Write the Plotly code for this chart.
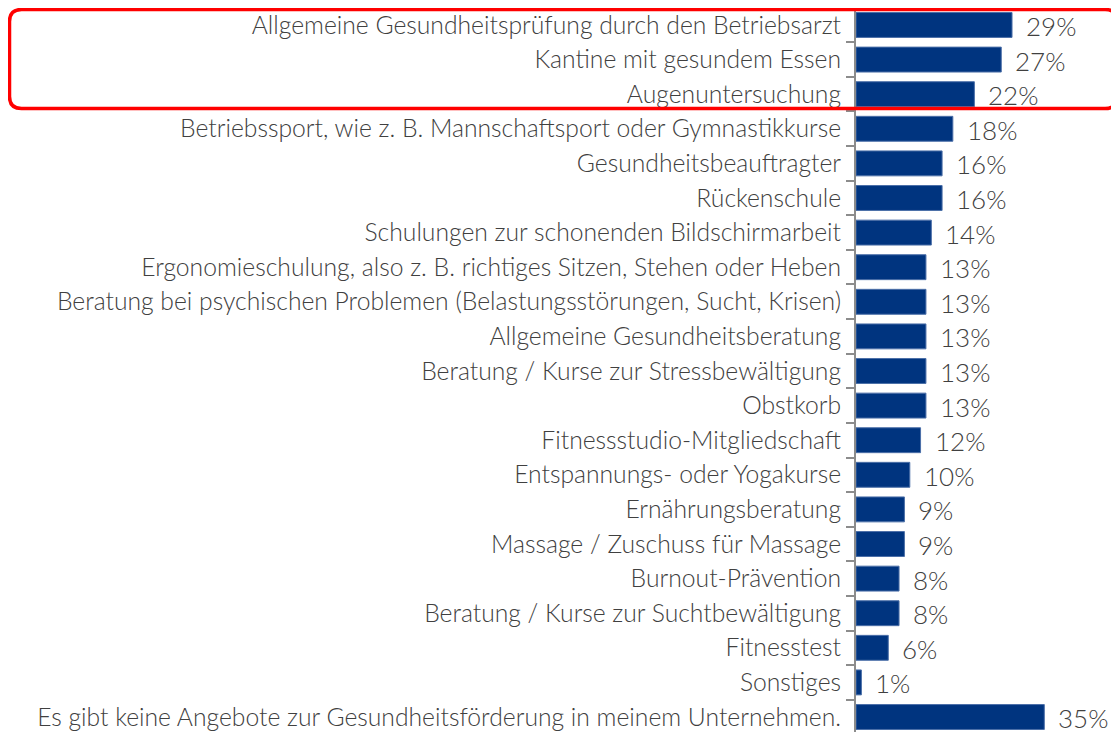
import plotly.graph_objects as go

categories = [
    "Allgemeine Gesundheitsprüfung durch den Betriebsarzt",
    "Kantine mit gesundem Essen",
    "Augenuntersuchung",
    "Betriebssport, wie z. B. Mannschaftsport oder Gymnastikkurse",
    "Gesundheitsbeauftragter",
    "Rückenschule",
    "Schulungen zur schonenden Bildschirmarbeit",
    "Ergonomieschulung, also z. B. richtiges Sitzen, Stehen oder Heben",
    "Beratung bei psychischen Problemen (Belastungsstörungen, Sucht, Krisen)",
    "Allgemeine Gesundheitsberatung",
    "Beratung / Kurse zur Stressbewältigung",
    "Obstkorb",
    "Fitnessstudio-Mitgliedschaft",
    "Entspannungs- oder Yogakurse",
    "Ernährungsberatung",
    "Massage / Zuschuss für Massage",
    "Burnout-Prävention",
    "Beratung / Kurse zur Suchtbewältigung",
    "Fitnesstest",
    "Sonstiges",
    "Es gibt keine Angebote zur Gesundheitsförderung in meinem Unternehmen.",
]
values = [29, 27, 22, 18, 16, 16, 14, 13, 13, 13, 13, 13, 12, 10, 9, 9, 8, 8, 6, 1, 35]
value_labels = [f"{v}%" for v in values]

OFF = 8             # page body margin
W, H = 1119 - OFF, 732 - OFF
AX_X = 856 - OFF    # pixel position of the y axis line (figure coords)
TOP, BOT = 0, H     # plot area top/bottom (figure coords)
PX_PER_UNIT = 5.38
FONT = "Lato"

cats_r = categories[::-1]
vals_r = values[::-1]
labs_r = value_labels[::-1]

fig = go.Figure()
fig.add_trace(go.Bar(
    y=cats_r, x=vals_r, orientation="h",
    marker=dict(color="#00347F", line=dict(color="#4B6FA8", width=1)),
    width=0.72, hoverinfo="skip", cliponaxis=False,
))

for c, v, t in zip(cats_r, vals_r, labs_r):
    fig.add_annotation(x=v, y=c, text=t, showarrow=False, xanchor="left",
                       xshift=13, yshift=-1, borderpad=0,
                       font=dict(family=FONT, size=26, color="#404040",
                                 weight=300))

row_h = 34.65
top_center = 25 - OFF
bot_center = 717 - OFF
n = len(categories)
y_top = (n - 1) + (top_center - TOP) / row_h
y_bot = 0 - (BOT - bot_center) / row_h

plot_w = W - AX_X
x_max = plot_w / PX_PER_UNIT

# red rounded highlight box (pixel -> paper)
def px(xp):
    return (xp - AX_X) / plot_w

def py(yp):
    return (BOT - yp) / (BOT - TOP)

x0, x1, y0, y1, r = 1.5, 1109, 1.5, 100.5, 12
path = (
    f"M {px(x0 + r)},{py(y0)} L {px(x1 - r)},{py(y0)} "
    f"Q {px(x1)},{py(y0)} {px(x1)},{py(y0 + r)} "
    f"L {px(x1)},{py(y1 - r)} Q {px(x1)},{py(y1)} {px(x1 - r)},{py(y1)} "
    f"L {px(x0 + r)},{py(y1)} Q {px(x0)},{py(y1)} {px(x0)},{py(y1 - r)} "
    f"L {px(x0)},{py(y0 + r)} Q {px(x0)},{py(y0)} {px(x0 + r)},{py(y0)} Z"
)
fig.add_shape(type="path", path=path, xref="paper", yref="paper",
              line=dict(color="#FF0000", width=3.5), layer="above")

fig.update_layout(
    width=W, height=H,
    margin=dict(l=AX_X, r=0, t=TOP, b=H - BOT, autoexpand=False),
    paper_bgcolor="white", plot_bgcolor="white",
    showlegend=False,
    font=dict(family=FONT, color="#404040"),
)
fig.update_xaxes(range=[0, x_max], visible=False, fixedrange=True)
fig.update_yaxes(
    type="category", range=[y_bot, y_top],
    showline=True, linecolor="#8C8C8C", linewidth=2,
    ticks="outside", tickson="boundaries", ticklen=8, tickcolor="#8C8C8C",
    tickwidth=1.5, ticklabelstandoff=8,
    tickfont=dict(family=FONT, size=24.7, color="#404040", weight=300),
    showgrid=False, automargin=False, fixedrange=True,
)

fig.write_html("out.html")
